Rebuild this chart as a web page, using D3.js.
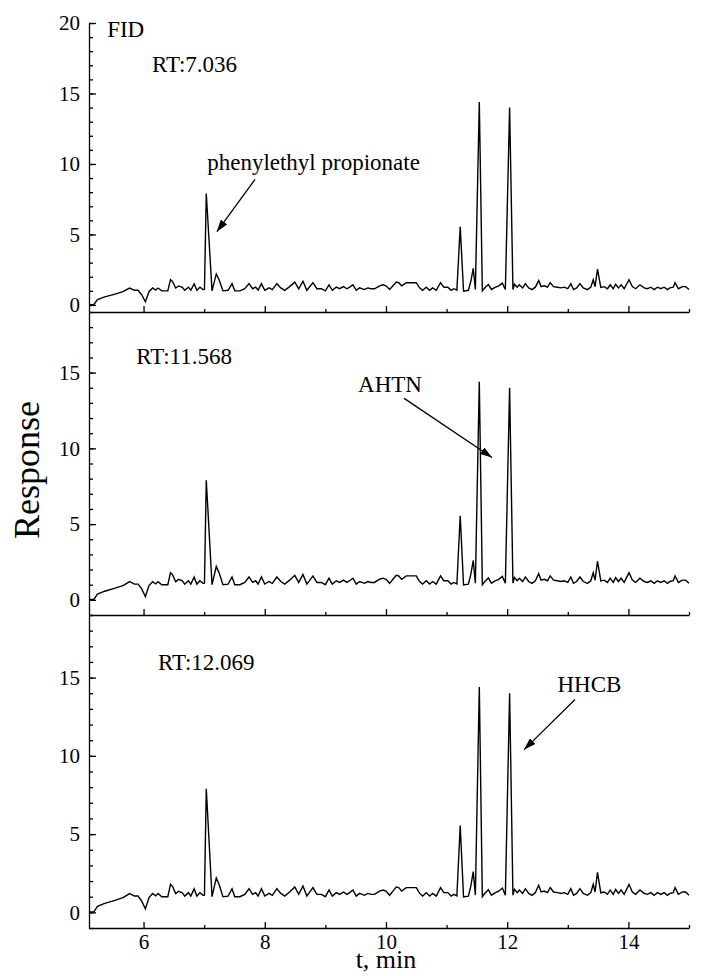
<!DOCTYPE html>
<html>
<head>
<meta charset="utf-8">
<script src="https://cdnjs.cloudflare.com/ajax/libs/d3/7.8.5/d3.min.js"></script>
<style>
  body { margin: 0; background: #fff; }
  svg text { font-family: "Liberation Serif", "Times New Roman", serif; fill: #000; }
</style>
</head>
<body>
<div class="chart"></div>
<script>
// retention time (min) and FID response
var times = [5.10, 5.18, 5.24, 5.36, 5.53, 5.66, 5.77, 5.85, 5.91, 5.97, 6.03, 6.09, 6.15, 6.20, 6.24, 6.30,
  6.40, 6.445, 6.48, 6.53, 6.58, 6.64, 6.68, 6.74, 6.78, 6.835, 6.88, 6.93, 6.98, 7.005, 7.035, 7.13,
  7.20, 7.25, 7.31, 7.395, 7.46, 7.505, 7.59, 7.67, 7.74, 7.80, 7.85, 7.89, 7.945, 8.00, 8.07, 8.125,
  8.20, 8.265, 8.33, 8.41, 8.495, 8.56, 8.63, 8.695, 8.795, 8.86, 8.935, 9.00, 9.06, 9.115, 9.18, 9.235,
  9.30, 9.355, 9.40, 9.455, 9.51, 9.565, 9.645, 9.70, 9.755, 9.81, 9.895, 9.95, 10.00, 10.06, 10.115, 10.17,
  10.21, 10.26, 10.335, 10.50, 10.555, 10.605, 10.665, 10.72, 10.77, 10.83, 10.90, 10.955, 11.02, 11.075, 11.12, 11.17,
  11.225, 11.28, 11.36, 11.40, 11.44, 11.475, 11.54, 11.59, 11.64, 11.69, 11.74, 11.80, 11.86, 11.92, 11.97, 12.04,
  12.095, 12.12, 12.165, 12.20, 12.255, 12.30, 12.355, 12.41, 12.465, 12.52, 12.56, 12.61, 12.665, 12.71, 12.765, 12.83,
  12.89, 12.94, 13.00, 13.05, 13.095, 13.145, 13.20, 13.255, 13.325, 13.38, 13.42, 13.45, 13.49, 13.545, 13.60, 13.655,
  13.70, 13.75, 13.79, 13.835, 13.88, 13.93, 14.01, 14.065, 14.12, 14.19, 14.26, 14.315, 14.37, 14.425, 14.48, 14.535,
  14.59, 14.645, 14.685, 14.74, 14.77, 14.825, 14.89, 14.945, 15.00];
var response = [0.02, 0.03, 0.38, 0.57, 0.77, 0.94, 1.2, 1.04, 1.04, 0.72, 0.22, 0.94, 1.2, 1.05, 1.2, 1.0,
  1.0, 1.8, 1.65, 1.2, 1.35, 1.25, 1.04, 1.26, 1.04, 1.5, 1.04, 1.26, 1.09, 1.1, 7.9, 1.0,
  2.2, 1.75, 1.0, 1.04, 1.51, 1.0, 1.0, 1.15, 1.51, 1.15, 1.26, 1.04, 1.51, 1.04, 1.21, 1.09,
  1.51, 1.21, 1.04, 1.30, 1.62, 1.15, 1.68, 1.04, 1.58, 1.15, 1.15, 1.0, 1.43, 1.04, 1.26, 1.15,
  1.30, 1.15, 1.26, 1.43, 1.04, 1.21, 1.09, 1.21, 1.15, 1.15, 1.36, 1.43, 1.36, 1.09, 1.36, 1.62,
  1.58, 1.36, 1.58, 1.58, 1.21, 1.04, 1.26, 1.04, 1.21, 1.04, 1.58, 1.26, 1.26, 1.04, 1.15, 1.05,
  5.55, 0.98, 1.04, 1.68, 2.6, 1.1, 14.4, 1.0, 1.25, 1.45, 1.1, 1.25, 1.35, 1.55, 1.1, 14.0,
  1.1, 1.47, 1.26, 1.43, 1.21, 1.51, 1.21, 1.09, 1.26, 1.73, 1.30, 1.36, 1.26, 1.58, 1.30, 1.26,
  1.21, 1.26, 1.15, 1.51, 1.09, 1.21, 1.51, 1.21, 1.09, 1.26, 1.79, 1.30, 2.55, 1.25, 1.30, 1.15,
  1.43, 1.15, 1.47, 1.21, 1.43, 1.15, 1.79, 1.30, 1.15, 1.43, 1.21, 1.15, 1.26, 1.09, 1.26, 1.15,
  1.26, 1.09, 1.21, 1.26, 1.58, 1.15, 1.30, 1.30, 1.09];

var xMajorTicks = [6, 8, 10, 12, 14];
var xMinorTicks = [7, 9, 11, 13, 15];
var topYTicks = [0, 5, 10, 15, 20];
var yTicks = [0, 5, 10, 15];
var rtLabels = ["RT:7.036", "RT:11.568", "RT:12.069"];
var compounds = ["phenylethyl propionate", "AHTN", "HHCB"];

var width = 707,
  height = 976,
  x0 = 89, x1 = 689,
  serif = '"Liberation Serif", "Times New Roman", serif',
  labelSize = "23px";

// three stacked panels sharing the time axis
var panels = [
  {top: 23, bottom: 312, domain: [-0.5, 20], ticks: topYTicks, rt: rtLabels[0],
   rtAt: [6.14, 16.5], name: compounds[0], nameAt: [7.05, 9.6], arrow: [[7.84, 8.9], [7.21, 5.2]]},
  {top: 312, bottom: 615, domain: [-1, 19], ticks: yTicks, rt: rtLabels[1],
   rtAt: [5.88, 15.6], name: compounds[1], nameAt: [9.54, 13.7], arrow: [[10.3, 13.3], [11.75, 9.4]]},
  {top: 615, bottom: 928, domain: [-1, 19], ticks: yTicks, rt: rtLabels[2],
   rtAt: [6.24, 15.5], name: compounds[2], nameAt: [12.83, 14.1], arrow: [[13.12, 13.6], [12.28, 10.4]]}
];

var data = times.map((t, i) => ({t: t, v: response[i]}));

var svg = d3.select(".chart")
  .append("svg")
  .attr("width", width)
  .attr("height", height);

svg.append("defs").append("marker")
  .attr("id", "head")
  .attr("markerUnits", "userSpaceOnUse")
  .attr("viewBox", "0 0 12 8")
  .attr("refX", 12)
  .attr("refY", 4)
  .attr("markerWidth", 12)
  .attr("markerHeight", 8)
  .attr("orient", "auto")
  .append("path")
  .attr("d", "M0,0L12,4L0,8Z")
  .attr("fill", "#000");

var xScale = d3.scaleLinear().domain([5.1, 15]).range([x0, x1]);

panels.forEach((p, k) => {
  var yScale = d3.scaleLinear().domain(p.domain).range([p.bottom, p.top]);
  var g = svg.append("g");

  // minor y ticks every 1
  g.append("g")
    .attr("transform", `translate(${x0},0)`)
    .call(d3.axisLeft(yScale).tickValues(d3.range(Math.ceil(p.domain[0]), p.domain[1] + 0.01, 1))
      .tickSize(-4).tickSizeOuter(0).tickFormat(""))
    .call(a => a.select(".domain").remove());

  // major y ticks with labels
  g.append("g")
    .attr("class", "y axis")
    .attr("transform", `translate(${x0},0)`)
    .attr("font-family", serif)
    .call(d3.axisLeft(yScale).tickValues(p.ticks).tickSize(-7).tickSizeOuter(0).tickPadding(9))
    .call(a => a.selectAll("text").style("font-size", "21px").style("font-family", serif));

  // x axis, ticks pointing up into the panel
  g.append("g")
    .attr("transform", `translate(0,${p.bottom})`)
    .call(d3.axisBottom(xScale).tickValues(xMinorTicks).tickSize(-3).tickSizeOuter(0).tickFormat(""))
    .call(a => a.select(".domain").remove());

  var xAxis = d3.axisBottom(xScale).tickValues(xMajorTicks).tickSize(-6).tickSizeOuter(0).tickPadding(6);
  if (k < 2) xAxis.tickFormat("");
  g.append("g")
    .attr("class", "x axis")
    .attr("transform", `translate(0,${p.bottom})`)
    .call(xAxis)
    .call(a => a.selectAll("text").style("font-size", "21px").style("font-family", serif));

  g.selectAll(".domain, .tick line").attr("stroke", "#000").attr("stroke-width", 1.3);

  // chromatogram trace
  g.append("path")
    .datum(data)
    .attr("fill", "none")
    .attr("stroke", "#000")
    .attr("stroke-width", 1.4)
    .attr("stroke-linejoin", "miter")
    .attr("d", d3.line().x(d => xScale(d.t)).y(d => yScale(d.v)));

  // labels
  if (k == 0) {
    g.append("text")
      .attr("x", xScale(5.40)).attr("y", yScale(19.0))
      .style("font-size", labelSize)
      .text("FID");
  }
  g.append("text")
    .attr("x", xScale(p.rtAt[0])).attr("y", yScale(p.rtAt[1]))
    .style("font-size", labelSize)
    .text(p.rt);
  g.append("text")
    .attr("x", xScale(p.nameAt[0])).attr("y", yScale(p.nameAt[1]))
    .style("font-size", labelSize)
    .text(p.name);
  g.append("line")
    .attr("x1", xScale(p.arrow[0][0])).attr("y1", yScale(p.arrow[0][1]))
    .attr("x2", xScale(p.arrow[1][0])).attr("y2", yScale(p.arrow[1][1]))
    .attr("stroke", "#000")
    .attr("stroke-width", 1.3)
    .attr("marker-end", "url(#head)");
});

// axis titles
svg.append("text")
  .attr("text-anchor", "middle")
  .attr("transform", "translate(39,470)rotate(-90)")
  .style("font-size", "36px")
  .text("Response");

svg.append("text")
  .attr("text-anchor", "middle")
  .attr("x", xScale(10))
  .attr("y", 968)
  .style("font-size", "26px")
  .text("t, min");
</script>
</body>
</html>
